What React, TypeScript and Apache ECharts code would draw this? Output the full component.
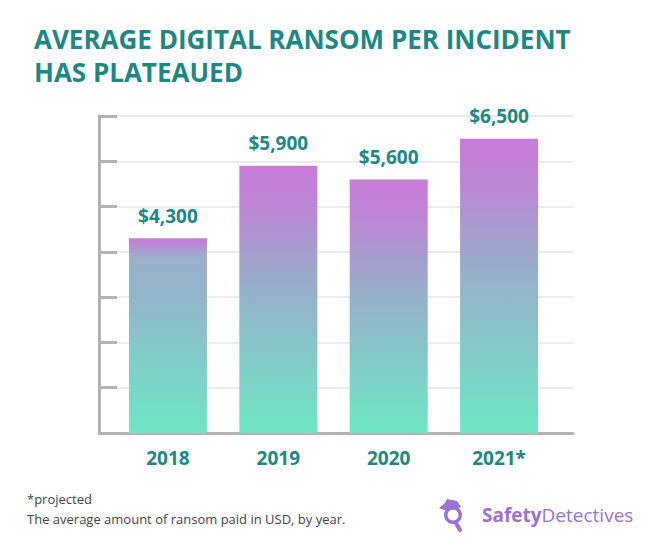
import React, { useEffect, useRef } from "react";
import * as echarts from "echarts";

const categories = ["2018", "2019", "2020", "2021*"];
const ransomValues = [4300, 5900, 5600, 6500];
const yTicks = { min: 0, max: 7000, interval: 1000 };
const titleLines = ["AVERAGE DIGITAL RANSOM PER INCIDENT", "HAS PLATEAUED"];

const TEAL = "#1e8784";
const FONT = "'Open Sans', 'Noto Sans', sans-serif";

function fmt(v: number) {
  return "$" + String(v).replace(/\B(?=(\d{3})+(?!\d))/g, ",");
}

export default function App() {
  const ref = useRef<HTMLDivElement>(null);
  useEffect(() => {
    if (!ref.current) return;
    const chart = echarts.init(ref.current, undefined, { renderer: "svg" });
    const grad = (first: boolean) =>
      new echarts.graphic.LinearGradient(0, 0, 0, 1, first
        ? [
            { offset: 0, color: "#c978d8" },
            { offset: 0.1, color: "#9ab0ca" },
            { offset: 0.3, color: "#92b5c9" },
            { offset: 1, color: "#6ee7c4" },
          ]
        : [
            { offset: 0, color: "#c97ad8" },
            { offset: 0.15, color: "#bd86d5" },
            { offset: 0.42, color: "#9aabcb" },
            { offset: 1, color: "#6ee7c4" },
          ]);
    const titleStyle = {
      color: TEAL,
      fontFamily: FONT,
      fontWeight: "bold",
      fontSize: 26,
    };
    chart.setOption({
      animation: false,
      backgroundColor: "#ffffff",
      title: [
        { text: titleLines[0], left: 34, top: 26, padding: 0, textStyle: titleStyle },
        { text: titleLines[1], left: 34, top: 59, padding: 0, textStyle: titleStyle },
      ],
      grid: { left: 99, right: 95, top: 116, bottom: 121 },
      xAxis: {
        type: "value",
        min: -0.625,
        max: 3.67,
        axisLine: { show: true, onZero: false, lineStyle: { color: "#b3b3b3", width: 3 } },
        axisTick: { show: false },
        splitLine: { show: false },
        axisLabel: {
          customValues: [0, 1, 2, 3],
          formatter: (v: number) => categories[Math.round(v)] ?? "",
          color: TEAL,
          fontFamily: FONT,
          fontWeight: "bold",
          fontSize: 19,
          margin: 15,
        },
      },
      yAxis: {
        type: "value",
        min: yTicks.min,
        max: yTicks.max,
        interval: yTicks.interval,
        axisLine: { show: true, onZero: false, lineStyle: { color: "#b3b3b3", width: 3 } },
        axisTick: { show: true, inside: true, length: 18, lineStyle: { color: "#b3b3b3", width: 3 } },
        axisLabel: { show: false },
        splitLine: { show: true, lineStyle: { color: "#ebebeb", width: 2 } },
      },
      series: [
        {
          type: "bar",
          barWidth: 78,
          data: ransomValues.map((v, i) => ({
            value: [i, v],
            itemStyle: { color: grad(i === 0) },
          })),
          label: {
            show: true,
            position: "top",
            distance: 13,
            formatter: (p: any) => fmt(p.value[1]),
            color: TEAL,
            fontFamily: FONT,
            fontWeight: "bold",
            fontSize: 19,
          },
        },
      ],
      graphic: [
        {
          type: "text",
          left: 27,
          top: 492,
          style: { text: "*projected", fill: "#444444", font: `13px ${FONT}` },
        },
        {
          type: "text",
          left: 27,
          top: 512,
          style: {
            text: "The average amount of ransom paid in USD, by year.",
            fill: "#444444",
            font: `13px ${FONT}`,
          },
        },
        {
          type: "group",
          left: 439,
          top: 499,
          children: [
            { type: "ring", shape: { cx: 14, cy: 16, r: 9, r0: 5.5 }, style: { fill: "#9b72d3" } },
            { type: "line", shape: { x1: 17, y1: 24, x2: 21, y2: 31 }, style: { stroke: "#9b72d3", lineWidth: 4, lineCap: "round" } },
            {
              type: "polygon",
              shape: { points: [[0, 9], [6, 4], [8, 0], [18, 2], [22, 8], [16, 10], [8, 12]] },
              style: { fill: "#9b72d3" },
            },
          ],
        },
        {
          type: "text",
          left: 482,
          top: 505,
          style: {
            rich: {
              a: { fill: "#9a72d4", font: `bold 19px ${FONT}` },
              b: { fill: "#9a72d4", font: `19px ${FONT}` },
            },
            text: "{a|Safety}{b|Detectives}",
          },
        },
      ],
    });
    return () => chart.dispose();
  }, []);
  return (
    <div
      ref={ref}
      style={{ position: "absolute", left: 0, top: 0, width: 668, height: 554 }}
    />
  );
}
